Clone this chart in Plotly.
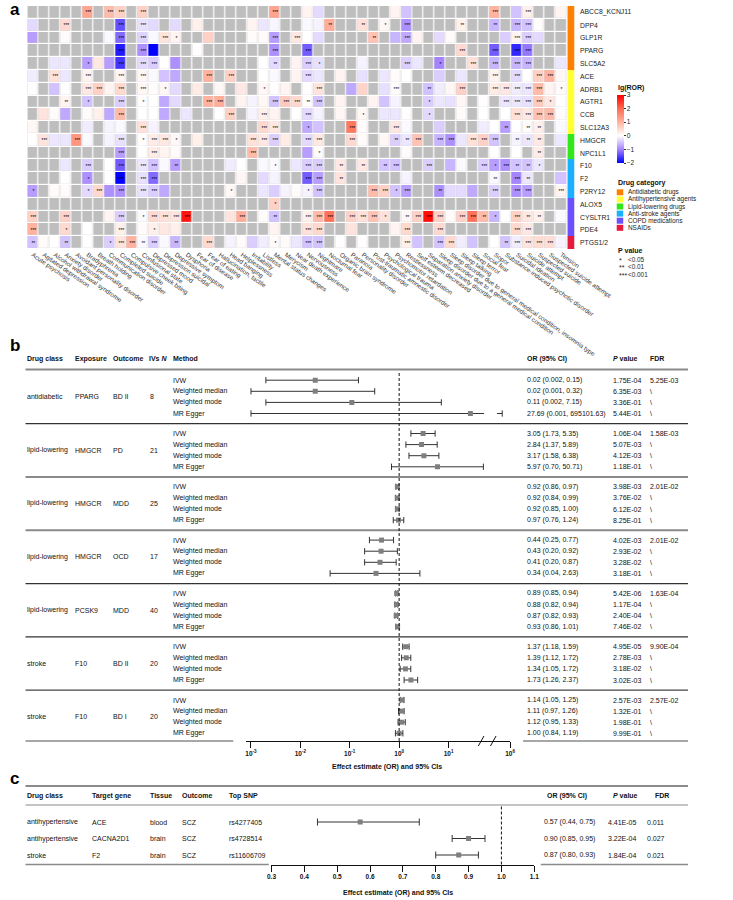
import math
import plotly.graph_objects as go

W, H = 733, 900
FONT = "Liberation Sans, Arial, sans-serif"


def px(x):
    return x / W


def py(y):
    return 1 - y / H


N = None

# ---------------- panel a data ----------------
genes = ["ABCC8_KCNJ11", "DPP4", "GLP1R", "PPARG", "SLC5A2", "ACE", "ADRB1", "AGTR1", "CCB",
         "SLC12A3", "HMGCR", "NPC1L1", "F10", "F2", "P2RY12", "ALOX5", "CYSLTR1", "PDE4", "PTGS1/2"]
gene_category = [0, 0, 0, 0, 0, 1, 1, 1, 1, 1, 2, 2, 3, 3, 3, 4, 4, 4, 5]
category_names = ["Antidiabetic drugs", "Antihypertensive agents", "Lipid-lowering drugs",
                  "Anti-stroke agents", "COPD medications", "NSAIDs"]
category_colors = ["#FF8000", "#FFFF33", "#33E61A", "#1AB0FF", "#6A50FF", "#E61A3C"]

events = ["Acute psychosis", "Agitated depression", "Alcohol withdrawal syndrome", "Anxiety disorder",
          "Avoidant personality disorder", "Bradyphrenia", "Breath holding", "Communication disorder",
          "Completed suicide", "Compulsive cheek biting", "Confusional state", "Depressed mood",
          "Depression suicidal", "Depressive symptom", "Dysphoria", "Fear of disease", "Fear of eating",
          "Hallucination, tactile", "Head banging", "Helplessness", "Irritability", "Listless",
          "Mental status changes", "Merycism", "Near death experience", "Nervousness", "Nightmare",
          "Nocturnal fear", "Organic brain syndrome", "Paranoia", "Personality disorder",
          "Post-traumatic amnestic disorder", "Psychological trauma", "Psychomotor retardation",
          "Restlessness", "Self esteem decreased", "Separation anxiety disorder",
          "Sleep disorder due to a general medical condition",
          "Sleep disorder due to general medical condition, insomnia type", "Sleep talking",
          "Sleep terror", "Social fear", "Sopor", "Substance-induced psychotic disorder",
          "Suicidal ideation", "Suicide attempt", "Suspected suicide", "Suspected suicide attempt",
          "Tension"]

lg_ror = [
    [N, N, N, N, N, 1.2, N, 0.9, 0.6, N, 0.6, N, N, N, N, N, N, N, N, N, N, N, 1.2, N, N, 0.15, -0.3, N, N, N,
     N, N, N, 0.15, -0.5, N, N, N, N, N, N, N, 1.0, N, -0.5, 0.2, N, N, 0.15],
    [-0.3, N, N, 0.5, N, N, N, N, -1.4, N, -0.25, -0.3, N, -0.3, N, 0.2, N, N, N, N, 0.15, -0.2, -0.08, N, N,
     -0.05, -0.1, 1.1, N, N, 0.4, N, 0.1, N, -0.9, N, N, N, N, 0.2, N, N, -0.6, N, -0.6, -0.5, 0.03, N, N],
    [-0.8, N, N, 0.05, N, N, N, -0.05, -1.2, N, -0.35, -0.05, 0.35, 0.15, N, N, 0.6, N, N, N, 0.05, 0.05, -0.8,
     N, 0.3, 0.0, -0.3, N, N, N, N, 0.8, N, -0.6, -0.7, 0.15, N, -0.3, 0.05, N, N, N, N, -0.4, 0.15, -0.4,
     -0.3, N, N],
    [N, N, N, N, N, N, N, N, -1.8, N, -0.9, -2.0, N, N, N, 0.02, N, N, N, N, N, N, -0.9, N, N, -1.3, N, N, N,
     N, N, N, N, N, N, N, N, N, N, 0.5, N, N, -1.3, N, -1.7, -1.1, N, N, N],
    [N, N, -0.2, -0.2, N, -0.8, 0.3, -0.8, -1.6, N, -0.3, -0.4, 0.0, -0.9, N, N, N, N, N, N, N, 0.0, -0.3, N,
     0.15, -0.4, -0.25, N, N, N, -0.1, N, N, N, -0.4, -0.2, N, -1.0, N, N, 0.4, N, -0.6, N, -0.6, -0.6, N, N,
     -0.2],
    [-0.15, N, 0.4, -0.2, N, 0.15, N, N, 0.15, N, 0.1, -0.05, -0.5, -0.7, N, N, 1.0, N, 0.6, N, N, 0.0, -0.05,
     N, 0.15, -0.3, -0.2, N, 0.15, N, -0.25, N, -0.2, 0.05, 0.0, N, N, -0.4, N, -0.2, N, N, 0.15, N, -0.3,
     0.0, 0.6, 1.0, 0.1],
    [0.02, N, -0.5, 0.02, N, 0.3, 0.6, 0.15, 0.5, N, 0.1, 0.05, 0.1, -0.3, N, 0.25, N, 0.1, N, 0.3, N, 0.1,
     0.02, 0.15, N, 0.02, 0.35, N, N, -0.7, 0.55, N, -0.25, 0.05, N, N, -0.5, -0.15, 0.1, 0.6, N, N, 0.25,
     0.3, -0.15, -0.2, 0.9, 0.15, 0.05],
    [N, N, N, 0.15, N, -0.5, N, N, -0.4, N, 0.02, 0.0, -0.7, -0.3, N, N, 1.0, 1.1, N, 0.15, -0.1, 0.1, -0.5,
     0.7, 0.5, 0.02, -0.5, N, 0.15, N, N, 0.15, -0.5, -0.1, N, N, -0.4, -0.2, -0.25, 0.1, N, 0.02, N, -0.2,
     -0.2, -0.25, 0.7, 0.3, 0.02],
    [N, 0.35, 0.05, -0.7, N, 0.05, 0.2, -0.7, 0.9, N, 0.0, 0.0, -0.7, N, -0.2, N, N, 0.0, 0.6, N, -0.1, 0.2,
     0.15, N, 0.0, -0.3, -0.1, N, 0.1, N, 0.1, N, -0.2, -0.2, 0.02, N, -0.3, N, N, 0.05, N, 0.0, N, 0.0, 0.4,
     0.3, 0.8, 0.9, 0.05],
    [0.1, N, N, N, N, -0.15, N, -0.1, -0.05, N, 0.4, -0.1, N, N, N, N, N, N, N, N, N, 0.5, 0.3, N, N, -0.7,
     -0.5, N, N, 1.8, 0.05, N, N, 0.3, -0.05, N, N, -0.4, N, N, N, -0.15, 0.0, -0.8, 0.0, 0.05, 0.2, N, -0.05],
    [0.0, 0.35, -0.2, -0.2, 1.4, -0.05, N, -0.1, -0.25, N, 0.02, 0.25, 0.3, 0.1, N, 0.2, N, N, N, N, 0.4, 0.3,
     -0.4, 0.25, N, -0.3, 0.3, N, N, 0.5, 0.05, N, 0.1, -0.4, -0.2, 0.8, N, -0.6, -0.9, -0.2, 0.4, 0.6, -0.5,
     N, -0.1, -0.2, 0.3, N, -0.2],
    [N, N, N, N, N, N, N, N, -0.8, N, 0.0, 0.25, 0.15, 0.05, N, N, N, N, N, N, 0.9, N, N, N, N, -0.8, 0.05, N,
     N, N, N, N, N, N, 0.05, N, N, N, N, N, N, N, 0.0, N, 0.0, N, 0.25, N, N],
    [N, N, N, -0.2, N, -0.4, N, 0.0, -1.3, N, -0.2, -0.5, -0.05, -0.8, N, N, N, N, -0.15, 0.0, N, -0.05,
     -0.05, N, -0.2, -0.4, -0.4, N, 0.3, N, 0.3, N, -0.5, -0.5, N, N, -0.4, N, -0.6, -0.05, N, -0.4, -0.8,
     -0.9, -0.5, -0.5, -0.2, N, N],
    [N, N, N, 0.0, N, -0.9, N, 0.0, -2.0, N, -0.25, -1.2, N, N, N, N, N, N, N, 0.1, N, -0.3, -0.1, N, N, -1.3,
     -0.8, N, 0.35, N, N, N, N, N, -0.1, N, N, N, N, N, N, N, -0.05, N, -1.0, -0.2, N, N, -0.5],
    [-0.8, N, 0.05, 0.05, N, -0.3, 0.5, -0.9, -0.9, N, -0.25, -0.4, -0.7, N, N, N, N, N, 0.1, N, N, -0.2,
     -0.4, -0.1, 0.05, -0.1, -0.5, N, N, N, N, 0.9, 0.6, -0.5, -0.8, N, N, -0.9, -0.3, -0.3, -0.7, N, -0.4,
     N, -0.9, -0.8, N, N, 0.15],
    [N, N, N, N, N, N, N, N, N, N, N, N, N, N, N, N, N, N, N, N, N, N, 0.6, N, N, N, N, N, N, N, N, N, N, N,
     N, N, N, N, N, N, N, N, N, N, N, N, N, N, N],
    [0.6, N, N, 0.6, N, N, N, 0.15, -0.4, N, -0.05, 0.5, 0.4, 0.35, 2.8, N, N, N, 0.35, 1.1, N, 0.05, -0.5, N,
     N, 0.2, 0.9, 1.9, N, 0.6, 0.4, 0.8, 0.4, N, 0.1, 0.6, 2.9, 0.6, 0.05, 0.6, 1.9, 0.9, -0.6, 0.0, 0.6,
     0.3, 0.2, N, -0.05],
    [1.0, N, N, 0.5, N, 0.0, N, N, 0.2, N, 0.05, 0.2, 0.3, 0.2, N, N, N, N, N, N, N, N, 0.15, N, N, 0.4, 0.5,
     N, N, 0.35, N, N, N, 0.15, 0.5, N, N, 0.5, N, N, N, N, N, N, 0.5, 0.3, N, N, N],
    [-0.5, 0.05, 0.0, -0.5, N, 0.0, N, -0.4, 0.35, 1.0, -0.05, -0.4, -0.05, -0.6, N, N, 0.5, N, -0.1, 0.05,
     -0.4, -0.15, 0.05, 0.05, -0.2, -0.5, -0.5, N, 0.02, N, 0.02, N, N, N, 0.2, -0.5, N, -0.5, 0.5, -0.15,
     -0.5, N, 0.0, -0.5, -0.15, 0.35, 0.45, 0.45, -0.1],
]

# number of significance stars per cell (0 = none, 1 = p<0.05, 2 = p<0.01, 3 = p<0.001)
star_levels = [
    "0000030330" "3000000000" "0030000000" "0000000000" "003003000",
    "0003000030" "3000000000" "0000000200" "2010300002" "002033000",
    "0000000030" "3031000000" "0030300000" "0200300000" "000033000",
    "0000000030" "3000000000" "0030030000" "0000000003" "003033000",
    "0000010030" "3300000000" "0020031000" "0000300100" "303033000",
    "0030030030" "3000003030" "0000030000" "0000000000" "003030330",
    "0000033030" "3010000000" "0100003000" "0003002003" "003333301",
    "0002010030" "1000003300" "0033323000" "0000001000" "000333310",
    "0000000030" "0000000030" "0300030000" "1000001000" "000033330",
    "0000000000" "3000000000" "0330010003" "0003000000" "000202200",
    "0300300030" "1331000000" "3330033003" "0002230330" "333022200",
    "0000000030" "0300000000" "3000001000" "0000000000" "000000200",
    "0000030030" "3302000000" "0010033020" "2023003000" "031322100",
    "0000010030" "3300000000" "0000033020" "0000000000" "002032000",
    "1000013030" "3300000010" "0000013000" "0331300200" "003033003",
    "0000000000" "0000000000" "0010000000" "0000000000" "000000000",
    "3003000030" "1333300003" "0020033303" "3310233303" "321032200",
    "3001000030" "0100000000" "0000033000" "0000300300" "000033000",
    "2002000133" "2302003000" "0010033000" "0000300330" "000233330",
]
pvalue_labels = ["<0.05", "<0.01", "<0.001"]
colorbar_ticks = [-2, -1, 0, 1, 2, 3]

# ---------------- panel b data ----------------
b_drug_class = ["antidiabetic", "lipid-lowering", "lipid-lowering", "lipid-lowering", "lipid-lowering",
                "stroke", "stroke"]
b_exposure = ["PPARG", "HMGCR", "HMGCR", "HMGCR", "PCSK9", "F10", "F10"]
b_outcome = ["BD II", "PD", "MDD", "OCD", "MDD", "BD II", "BD I"]
b_n_ivs = [8, 21, 25, 17, 40, 20, 20]
b_methods = ["IVW", "Weighted median", "Weighted mode", "MR Egger"]
b_or = [[0.02, 0.02, 0.11, 27.69], [3.05, 2.84, 3.17, 5.97], [0.92, 0.92, 0.92, 0.97],
        [0.44, 0.43, 0.41, 0.34], [0.89, 0.88, 0.87, 0.93], [1.37, 1.39, 1.34, 1.73],
        [1.14, 1.11, 1.12, 1.00]]
b_lo = [[0.002, 0.001, 0.002, 0.001], [1.73, 1.37, 1.58, 0.70], [0.86, 0.84, 0.85, 0.76],
        [0.25, 0.20, 0.20, 0.04], [0.85, 0.82, 0.82, 0.86], [1.18, 1.12, 1.05, 1.26],
        [1.05, 0.97, 0.95, 0.84]]
b_hi = [[0.15, 0.32, 7.15, 695101.63], [5.35, 5.89, 6.38, 50.71], [0.97, 0.99, 1.00, 1.24],
        [0.77, 0.92, 0.87, 2.63], [0.94, 0.94, 0.93, 1.01], [1.59, 1.72, 1.72, 2.37],
        [1.25, 1.26, 1.33, 1.19]]
b_p = [[1.75e-04, 6.35e-03, 3.36e-01, 5.44e-01], [1.06e-04, 5.07e-03, 4.12e-03, 1.18e-01],
       [3.98e-03, 3.76e-02, 6.12e-02, 8.25e-01], [4.02e-03, 2.93e-02, 3.28e-02, 3.18e-01],
       [5.42e-06, 1.17e-04, 2.40e-04, 7.46e-02], [4.95e-05, 2.78e-03, 3.18e-02, 3.02e-03],
       [2.57e-03, 1.32e-01, 1.98e-01, 9.99e-01]]
b_fdr = [5.25e-03, 1.58e-03, 2.01e-02, 2.01e-02, 1.63e-04, 9.90e-04, 2.57e-02]
b_tick_exponents = [-3, -2, -1, 0, 1, 6]

# ---------------- panel c data ----------------
c_drug_class = ["antihypertensive", "antihypertensive", "stroke"]
c_gene = ["ACE", "CACNA2D1", "F2"]
c_tissue = ["blood", "brain", "brain"]
c_outcome = ["SCZ", "SCZ", "SCZ"]
c_snp = ["rs4277405", "rs4728514", "rs11606709"]
c_or = [0.57, 0.90, 0.87]
c_lo = [0.44, 0.85, 0.80]
c_hi = [0.75, 0.95, 0.93]
c_p = [4.41e-05, 3.22e-04, 1.84e-04]
c_fdr = ["0.011", "0.027", "0.021"]
c_ticks = [0.3, 0.4, 0.5, 0.6, 0.7, 0.8, 0.9, 1.0, 1.1]

# ======================================================================
fig = go.Figure()
ann = []
shapes = []


def text(x, y, s, yref="paper", size=7.0, anchor="left", color="#111", vanchor="middle"):
    ann.append(dict(x=px(x), y=(py(y) if yref == "paper" else y), xref="paper", yref=yref, text=s,
                    showarrow=False, xanchor=anchor, yanchor=vanchor,
                    font=dict(size=size, color=color, family=FONT)))


def hline(x0, x1, y, yref="paper", color="#444", width=1.0):
    yy = py(y) if yref == "paper" else y
    shapes.append(dict(type="line", xref="paper", yref=yref, x0=px(x0), x1=px(x1), y0=yy, y1=yy,
                       line=dict(color=color, width=width)))


# ---------------- panel a ----------------
nrow, ncol = len(genes), len(events)
xs = list(range(ncol))
ys = list(range(nrow))
GAP = 1.2
fig.add_trace(go.Heatmap(z=[[0] * ncol for _ in ys], x=xs, y=ys,
                         colorscale=[[0, "#BEBEBE"], [1, "#BEBEBE"]], showscale=False,
                         xgap=GAP, ygap=GAP, hoverinfo="skip", xaxis="x", yaxis="y"))
star_text = [["*" * int(c) for c in row] for row in star_levels]
CS = [[0.0, "#0000FF"], [0.2, "#A484FF"], [0.4, "#FFFFFF"], [0.6, "#FFB3A0"], [0.8, "#FF6A50"],
      [1.0, "#FF0000"]]
fig.add_trace(go.Heatmap(
    z=lg_ror, x=xs, y=ys, zmin=-2, zmax=3, colorscale=CS, text=star_text, texttemplate="%{text}",
    textfont=dict(size=5, color="#000", family=FONT), xgap=GAP, ygap=GAP, hoverinfo="skip",
    xaxis="x", yaxis="y",
    colorbar=dict(x=px(657), xanchor="left", y=py(129), yanchor="middle", len=68, lenmode="pixels",
                  thickness=7, thicknessmode="pixels", xpad=0, ypad=0, outlinewidth=0,
                  tickvals=colorbar_ticks, ticks="outside", ticklen=2, tickcolor="#333",
                  tickfont=dict(size=6.5, family=FONT, color="#222"))))

cat_scale = []
for i, c in enumerate(category_colors):
    cat_scale += [[i / len(category_colors), c], [(i + 1) / len(category_colors), c]]
fig.add_trace(go.Heatmap(z=[[c] for c in gene_category], x=[0], y=ys, zmin=-0.5,
                         zmax=len(category_colors) - 0.5, colorscale=cat_scale, showscale=False,
                         hoverinfo="skip", xaxis="x2", yaxis="y"))

for i, g in enumerate(genes):
    text(615, i, g, yref="y", size=6.8, color="#222")

text(3, 10, "<b>a</b>", size=17, color="#000")
text(656, 88, "<b>lg(ROR)</b>", size=7)
text(656, 183, "<b>Drug category</b>", size=7)
for i, (nm, col) in enumerate(zip(category_names, category_colors)):
    yc = 192.3 + i * 7.1
    shapes.append(dict(type="rect", xref="paper", yref="paper", x0=px(656.5), x1=px(663.5),
                       y0=py(yc + 3), y1=py(yc - 3), fillcolor=col, line=dict(width=0)))
    text(666, yc, nm, size=6.4, color="#222")
text(656, 250, "<b>P value</b>", size=7)
for i, lab in enumerate(pvalue_labels):
    yc = 259 + i * 7.7
    text(657, yc + 1, "*" * (i + 1), size=7, color="#222")
    text(666, yc, lab, size=6.4, color="#222")

# ---------------- panel b ----------------
ROW = 11.1
BLOCK = 53.3 / ROW
ROW0 = 380.2
B_TOP, B_AXIS = 369.5, 741.0
SHIFT = 6 - 2.245
BRK_LO, BRK_HI = 1.72, 1.98
SEP_STYLE = [("#333", 1.2), ("#8A8A8A", 2.0), ("#8A8A8A", 2.0), ("#333", 1.2), ("#333", 1.2),
             ("#444", 1.2)]


def ub(v):
    lv = math.log10(v)
    return lv if lv <= BRK_LO else max(lv - SHIFT, BRK_HI)


def fmt_or(v):
    return f"{v:.3f}" if v < 0.01 else f"{v:.2f}"


seg_x, seg_y, cap_x, cap_y, pt_x, pt_y = [], [], [], [], [], []
for k in range(len(b_or)):
    for j in range(len(b_methods)):
        r = k * BLOCK + j
        lo, est, hi = b_lo[k][j], b_or[k][j], b_hi[k][j]
        ulo, uest, uhi = ub(lo), ub(est), ub(hi)
        if math.log10(hi) > BRK_LO:
            seg_x += [ulo, BRK_LO, None, BRK_HI, uhi, None]
            seg_y += [r, r, None, r, r, None]
        else:
            seg_x += [ulo, uhi, None]
            seg_y += [r, r, None]
        cap_x += [ulo, uhi]
        cap_y += [r, r]
        pt_x.append(uest)
        pt_y.append(r)
        text(178, r, b_methods[j], yref="y3")
        text(558, r, f"{fmt_or(est)} ({fmt_or(lo)}, {fmt_or(hi)})", yref="y3")
        text(650, r, f"{b_p[k][j]:.2E}", yref="y3")
        text(690, r, f"{b_fdr[k]:.2E}" if j == 0 else "\\", yref="y3")
    rc = k * BLOCK + 1.5
    text(22, rc, b_drug_class[k], yref="y3")
    text(73, rc, b_exposure[k], yref="y3")
    text(114, rc, b_outcome[k], yref="y3")
    text(153, rc, str(b_n_ivs[k]), yref="y3")
    if k < len(b_or) - 1:
        col, wid = SEP_STYLE[k]
        hline(22, 733, k * BLOCK + 3.92, yref="y3", color=col, width=wid)

fig.add_trace(go.Scatter(x=seg_x, y=seg_y, mode="lines", line=dict(color="#333", width=1),
                         hoverinfo="skip", xaxis="x3", yaxis="y3", showlegend=False))
fig.add_trace(go.Scatter(x=cap_x, y=cap_y, mode="markers",
                         marker=dict(symbol="line-ns", size=4.5, line=dict(color="#333", width=1)),
                         hoverinfo="skip", xaxis="x3", yaxis="y3", showlegend=False))
fig.add_trace(go.Scatter(x=pt_x, y=pt_y, mode="markers",
                         marker=dict(symbol="square", size=5, color="#7F7F7F"),
                         hoverinfo="skip", xaxis="x3", yaxis="y3", showlegend=False))

text(3, 346, "<b>b</b>", size=17, color="#000")
hy = 359
text(22, hy, "<b>Drug class</b>")
text(73, hy, "<b>Exposure</b>")
text(114, hy, "<b>Outcome</b>")
text(152, hy, "<b>IVs <i>N</i></b>")
text(178, hy, "<b>Method</b>")
text(558, hy, "<b>OR (95% CI)</b>")
text(650, hy, "<b><i>P</i> value</b>")
text(690, hy, "<b>FDR</b>")
hline(22, 733, B_TOP, color="#8A8A8A", width=2)
hline(22, 245, B_AXIS, color="#8A8A8A", width=1.5)
hline(556, 733, B_AXIS, color="#8A8A8A", width=1.5)
shapes.append(dict(type="line", xref="x3", yref="paper", x0=0, x1=0, y0=py(B_AXIS), y1=py(B_TOP + 2),
                   line=dict(color="#111", width=1, dash="3px,2px")))
for xb in (511, 524):
    shapes.append(dict(type="line", xref="paper", yref="paper", x0=px(xb - 3), x1=px(xb + 3),
                       y0=py(B_AXIS + 5), y1=py(B_AXIS - 5), line=dict(color="#111", width=1)))
text(410, 767, "<b>Effect estimate (OR) and 95% CIs</b>", size=7, anchor="center")

b_tickvals = [e if e <= BRK_LO else e - SHIFT for e in b_tick_exponents]
b_ticktext = [f"<b>10<sup>{e}</sup></b>" for e in b_tick_exponents]

# ---------------- panel c ----------------
C_ROW0, C_ROW = 822.0, 16.5
C_HEAD_LINE, C_AXIS = 805.0, 864.5
text(3, 778, "<b>c</b>", size=17, color="#000")
hline(22, 733, 786, color="#8A8A8A", width=2)
hline(22, 733, C_HEAD_LINE, color="#8A8A8A", width=1.2)
hline(22, 283, C_AXIS, color="#8A8A8A", width=1.5)
hline(575, 733, C_AXIS, color="#8A8A8A", width=1.5)
chy = 795.5
text(22, chy, "<b>Drug class</b>")
text(91, chy, "<b>Target gene</b>")
text(154, chy, "<b>Tissue</b>")
text(188, chy, "<b>Outcome</b>")
text(238, chy, "<b>Top SNP</b>")
text(579, chy, "<b>OR (95% CI)</b>")
text(650, chy, "<b><i>P</i> value</b>")
text(695, chy, "<b>FDR</b>")
cseg_x, cseg_y, ccap_x, ccap_y = [], [], [], []
for i in range(len(c_or)):
    cseg_x += [c_lo[i], c_hi[i], None]
    cseg_y += [i, i, None]
    ccap_x += [c_lo[i], c_hi[i]]
    ccap_y += [i, i]
    text(22, i, c_drug_class[i], yref="y4")
    text(91, i, c_gene[i], yref="y4")
    text(154, i, c_tissue[i], yref="y4")
    text(188, i, c_outcome[i], yref="y4")
    text(238, i, c_snp[i], yref="y4")
    text(576, i, f"{c_or[i]:.2f} ({c_lo[i]:.2f}, {c_hi[i]:.2f})", yref="y4")
    text(645, i, f"{c_p[i]:.2E}", yref="y4")
    text(687, i, c_fdr[i], yref="y4")
fig.add_trace(go.Scatter(x=cseg_x, y=cseg_y, mode="lines", line=dict(color="#333", width=1),
                         hoverinfo="skip", xaxis="x4", yaxis="y4", showlegend=False))
fig.add_trace(go.Scatter(x=ccap_x, y=ccap_y, mode="markers",
                         marker=dict(symbol="line-ns", size=5, line=dict(color="#333", width=1)),
                         hoverinfo="skip", xaxis="x4", yaxis="y4", showlegend=False))
fig.add_trace(go.Scatter(x=c_or, y=list(range(len(c_or))), mode="markers",
                         marker=dict(symbol="square", size=5, color="#7F7F7F"),
                         hoverinfo="skip", xaxis="x4", yaxis="y4", showlegend=False))
shapes.append(dict(type="line", xref="x4", yref="paper", x0=1.0, x1=1.0, y0=py(C_AXIS),
                   y1=py(C_HEAD_LINE), line=dict(color="#111", width=1, dash="3px,2px")))
text(422, 893, "<b>Effect estimate (OR) and 95% CIs</b>", size=7, anchor="center")

c_r_top = (C_HEAD_LINE - C_ROW0) / C_ROW
c_r_bot = (C_AXIS - C_ROW0) / C_ROW

# ---------------- layout ----------------
noax = dict(showgrid=False, zeroline=False, showticklabels=False, showline=False, ticks="")
fig.update_layout(
    width=W, height=H, autosize=False, margin=dict(l=0, r=0, t=0, b=0),
    paper_bgcolor="white", plot_bgcolor="white", showlegend=False,
    font=dict(family=FONT, color="#111"),
    xaxis=dict(domain=[px(24), px(603)], range=[-0.5, ncol - 0.5], anchor="y", tickvals=xs,
               ticktext=events, tickangle=35, tickfont=dict(size=6.3, color="#333", family=FONT),
               showgrid=False, zeroline=False, showline=False, ticks=""),
    yaxis=dict(domain=[py(249), py(6)], range=[nrow - 0.5, -0.5], anchor="x", **noax),
    xaxis2=dict(domain=[px(603.5), px(611.5)], range=[-0.5, 0.5], anchor="y", **noax),
    xaxis3=dict(domain=[px(259), px(542)], range=[(259 - 423) / 53.0, 2.245], anchor="y3",
                tickvals=b_tickvals, ticktext=b_ticktext, ticks="outside", ticklen=6, tickwidth=1,
                tickcolor="#111", showline=True, linecolor="#111", linewidth=1, showgrid=False,
                zeroline=False, tickfont=dict(size=6.5, family=FONT, color="#111")),
    yaxis3=dict(domain=[py(B_AXIS), py(B_TOP)],
                range=[(B_AXIS - ROW0) / ROW, (B_TOP - ROW0) / ROW], anchor="x3", **noax),
    xaxis4=dict(domain=[px(286), px(568)], range=[0.3, 1.1], anchor="y4", tickvals=c_ticks,
                ticktext=[f"<b>{t:.1f}</b>" for t in c_ticks], ticks="outside", ticklen=6,
                tickwidth=1, tickcolor="#111", showline=True, linecolor="#111", linewidth=1,
                showgrid=False, zeroline=False, tickfont=dict(size=6.5, family=FONT, color="#111")),
    yaxis4=dict(domain=[py(C_AXIS), py(C_HEAD_LINE)], range=[c_r_bot, c_r_top], anchor="x4", **noax),
    annotations=ann, shapes=shapes,
)

fig.write_html("out.html", config={"displayModeBar": False},
               post_script="document.body.style.margin='0px';")
